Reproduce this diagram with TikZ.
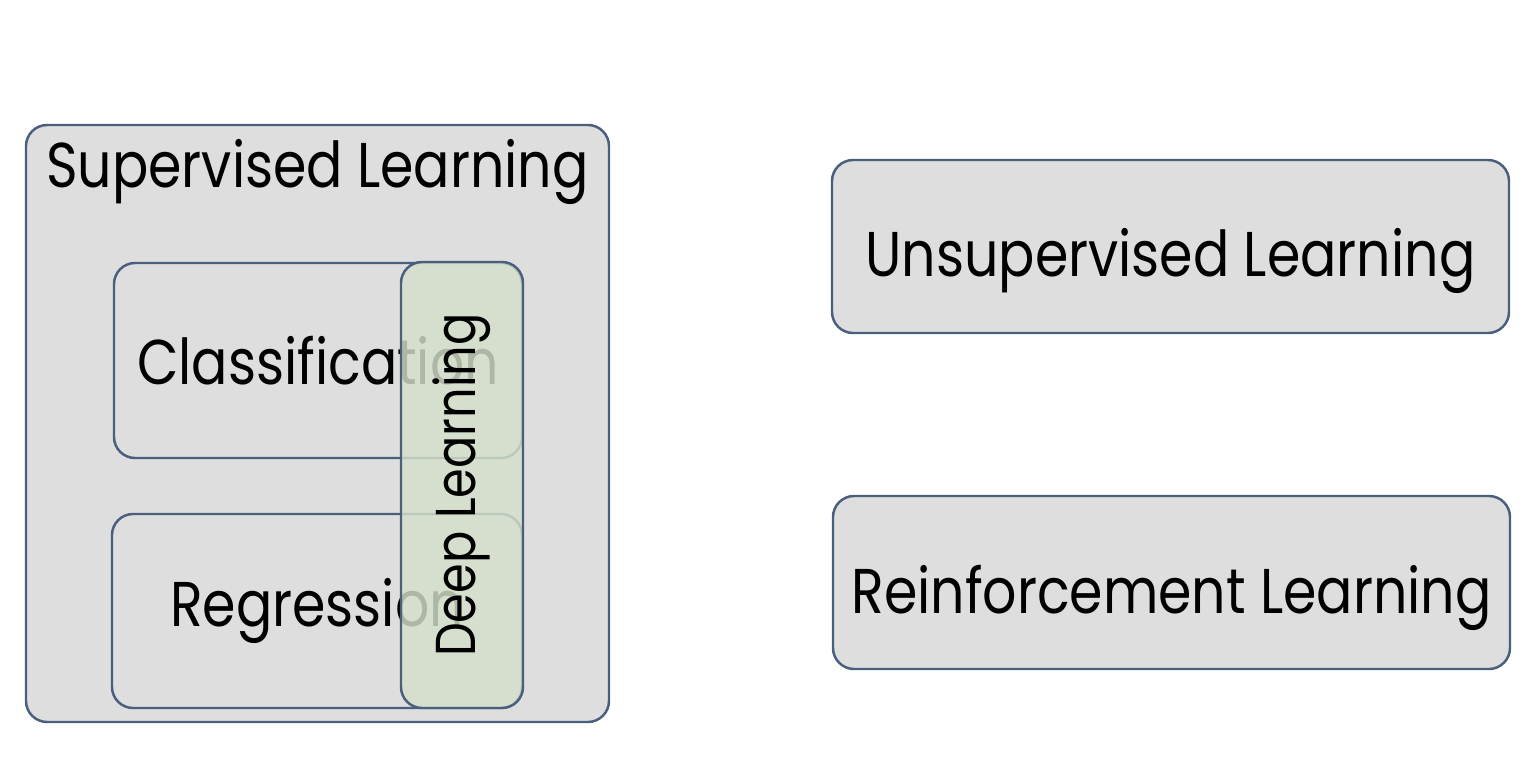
\documentclass[tikz,border=0pt]{standalone}
\usepackage{fontspec}
\setmainfont[FakeStretch=0.85]{Poppins}
\usepackage{xcolor}
\usepackage{tikz}
\usetikzlibrary{positioning}
\definecolor{boxgray}{HTML}{DEDEDE}
\definecolor{boxline}{HTML}{4A5F7E}
\definecolor{deepgreen}{HTML}{D5E0CA}

\begin{document}
\begin{tikzpicture}[
  areabox/.style={
    rectangle, rounded corners=6pt, inner sep=1pt,
    fill=boxgray, draw=boxline, line width=0.7pt,
    font=\fontsize{18}{21}\selectfont,
  },
  kindbox/.style={
    areabox, minimum width=6.77cm, minimum height=1.73cm,
    text height=0.61cm, text depth=0pt,
  },
  deepbox/.style={
    areabox, fill=deepgreen, fill opacity=0.82, text opacity=1,
    font=\fontsize{16}{19}\selectfont,
  },
]
\useasboundingbox (0,0) rectangle (15.29,7.73);

% Supervised side
\node[areabox, minimum width=5.83cm, minimum height=5.97cm,
  label={[font=\fontsize{18}{21}\selectfont, anchor=north, yshift=-1pt]north:Supervised Learning}] (sup) at (3.175, 3.495) {};
\node[areabox, minimum width=4.08cm, minimum height=1.95cm] (cls) at (3.18, 4.125) {Classification};
\node[areabox, minimum width=4.10cm, minimum height=1.94cm] (reg) at (3.17, 1.62) {Regression};
\node[deepbox, minimum width=4.46cm, minimum height=1.22cm, rotate=90] (deep) at (4.62, 2.88) {Deep Learning};

% Other kinds
\node[kindbox] (unsup) at (11.705, 5.265) {Unsupervised Learning};
\node[kindbox] (reinf) at (11.715, 1.905) {Reinforcement Learning};

\end{tikzpicture}
\end{document}
